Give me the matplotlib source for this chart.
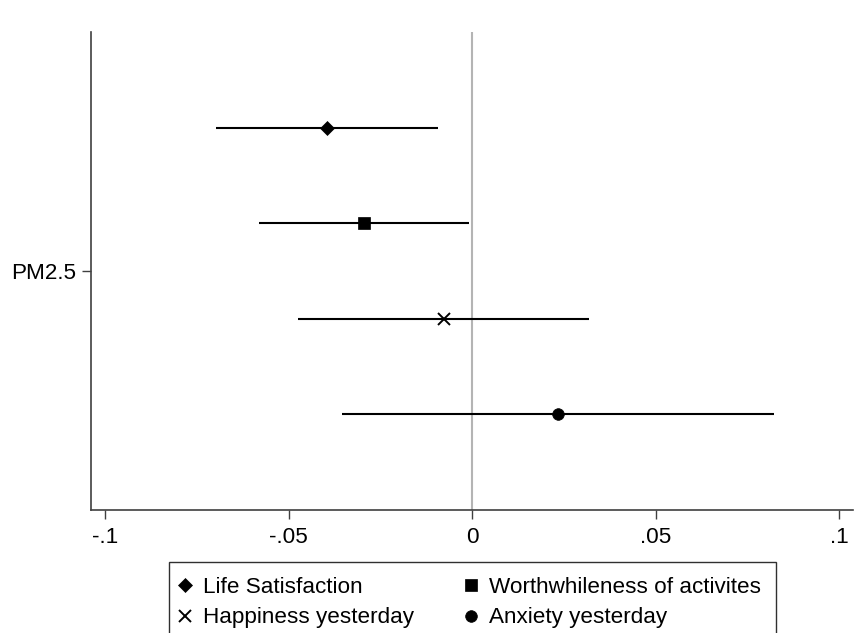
import matplotlib.pyplot as plt
from matplotlib.lines import Line2D

plt.rcParams['font.family'] = ['Liberation Sans', 'DejaVu Sans']

# coefficient estimates with 95% CI for PM2.5
outcomes = ['Life Satisfaction', 'Worthwhileness of activites',
            'Happiness yesterday', 'Anxiety yesterday']
coef = [-0.0396, -0.0294, -0.0076, 0.0233]
ci_low = [-0.0698, -0.0580, -0.0474, -0.0354]
ci_high = [-0.0094, -0.0009, 0.0318, 0.0823]
markers = ['D', 's', 'x', 'o']
msizes = [7.5, 8.2, 8.9, 8.4]

xticks = [-0.1, -0.05, 0, 0.05, 0.1]
xticklabels = ['-.1', '-.05', '0', '.05', '.1']

W, H = 863, 633
FS = 16.2
fig = plt.figure(figsize=(W / 100, H / 100), dpi=100)
ax = fig.add_axes([90.7 / W, 1 - 510 / H, (853 - 90.7) / W, (510 - 32) / H])

ax.axvline(0, color='#b4b4b4', lw=1.5, zorder=1)

for i, name in enumerate(outcomes):
    y = i + 1
    ax.plot([ci_low[i], ci_high[i]], [y, y], color='black', lw=1.5,
            solid_capstyle='butt', zorder=2)
    ax.plot(coef[i], y, ls='none', marker=markers[i], ms=msizes[i],
            color='black', mew=1.4 if markers[i] == 'x' else 0.5,
            zorder=3, label=name)

ax.set_xlim(-0.104, 0.1038)
ax.set_ylim(5, 0)
ax.set_xticks(xticks)
ax.set_xticklabels(xticklabels)
ax.set_yticks([2.5])
ax.set_yticklabels(['PM2.5'])

for s in ['top', 'right']:
    ax.spines[s].set_visible(False)
for s in ['left', 'bottom']:
    ax.spines[s].set_color('#404040')
    ax.spines[s].set_linewidth(1.2)

ax.tick_params(axis='both', length=6.5, width=1.0, color='#404040',
               labelsize=FS, labelcolor='black')
ax.tick_params(axis='x', pad=6)
ax.tick_params(axis='y', pad=4)

# column-wise fill: left column Life/Happiness, right column Worth/Anxiety
order = [0, 2, 1, 3]
leg_handles = [Line2D([], [], ls='none', marker=markers[k], ms=msizes[k],
                      color='black', mew=1.4 if markers[k] == 'x' else 0.5)
               for k in order]
leg = fig.legend(leg_handles, [outcomes[k] for k in order], ncol=2,
                 loc='upper left', bbox_to_anchor=(169.3 / W, 1 - 561.7 / H),
                 borderaxespad=0, borderpad=0.68, handlelength=0.03,
                 handletextpad=0.79, labelspacing=0.42, columnspacing=2.5,
                 fontsize=FS, fancybox=False, framealpha=1)
leg.get_frame().set_edgecolor('#303030')
leg.get_frame().set_linewidth(1.0)

fig.savefig('out.png', dpi=100)
